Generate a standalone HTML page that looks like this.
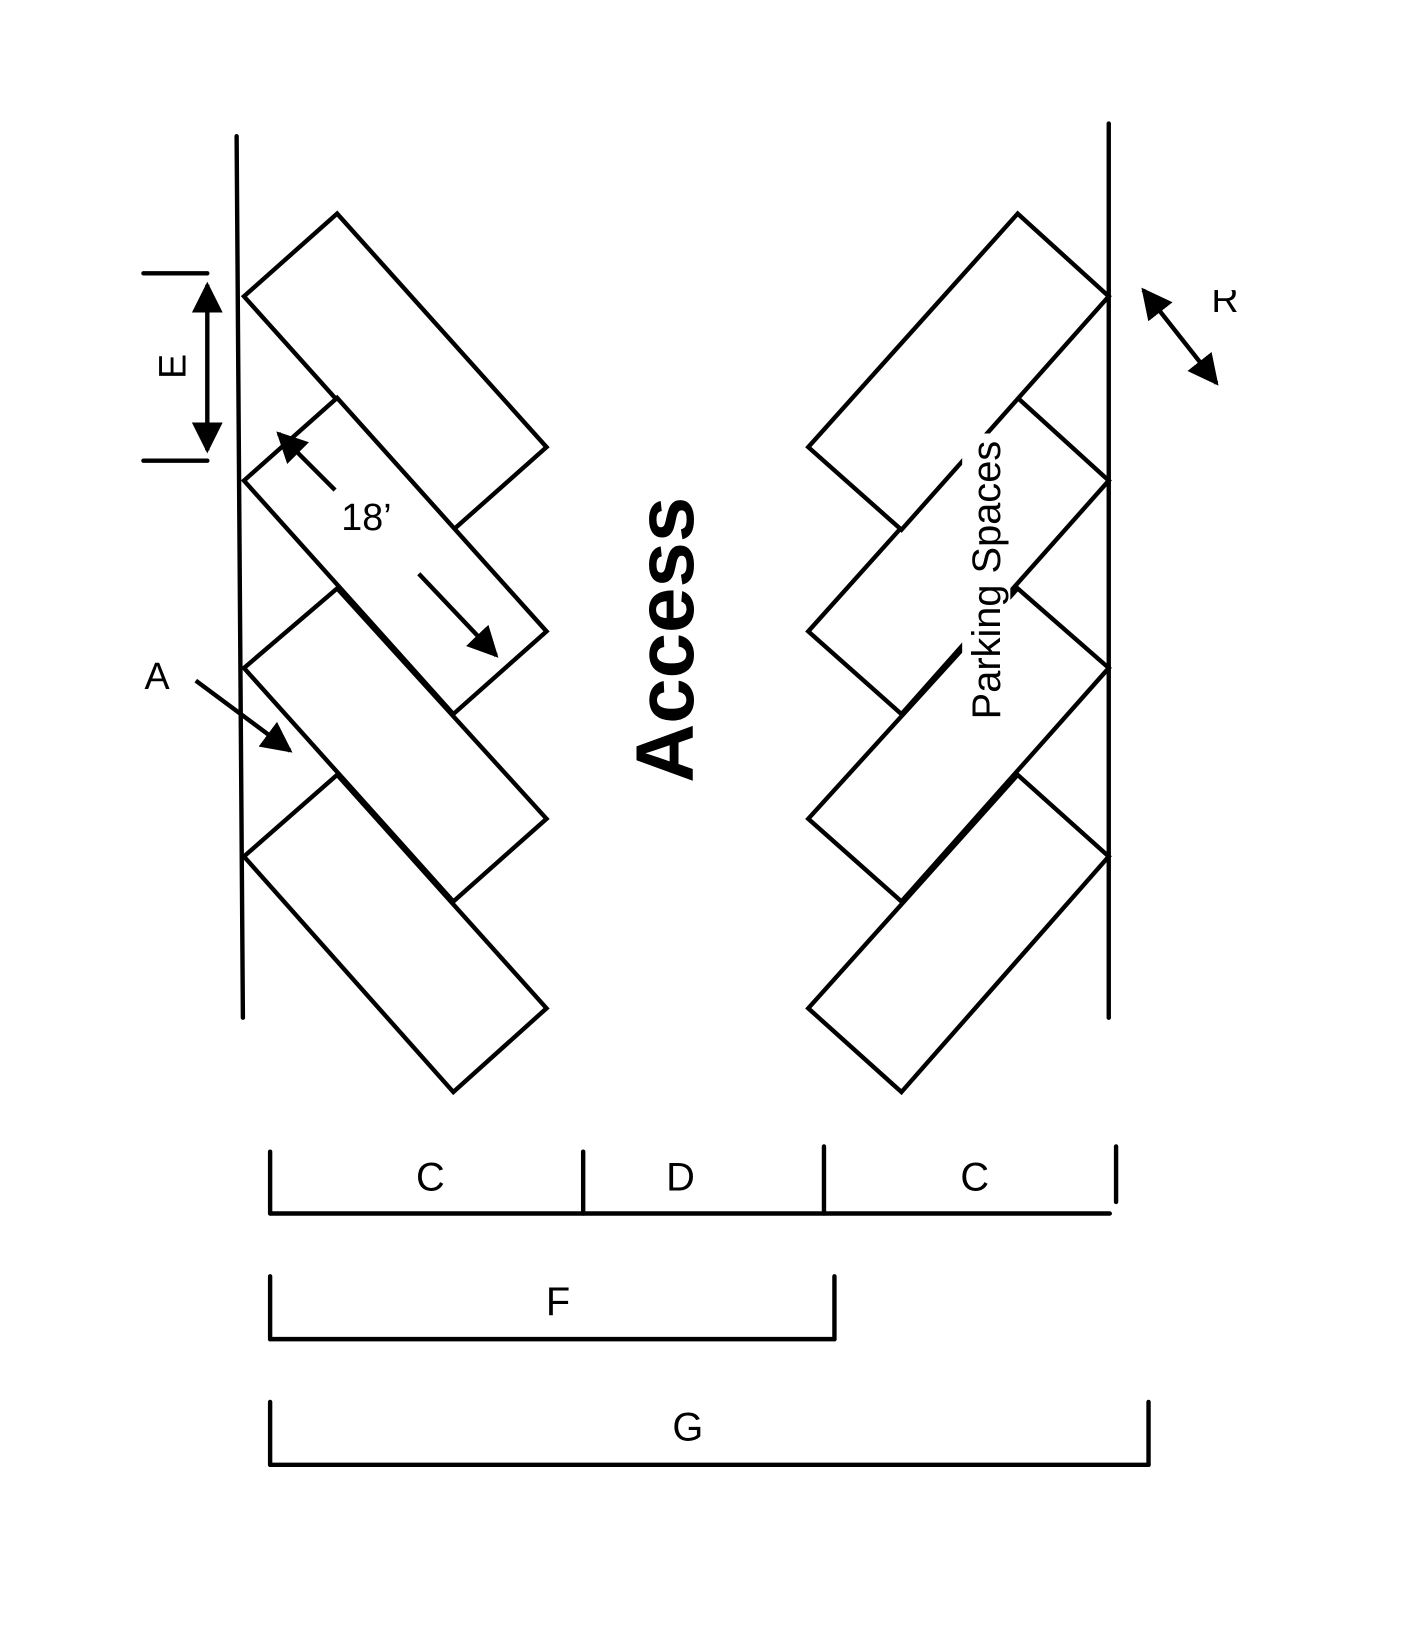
<!DOCTYPE html>
<html><head><meta charset="utf-8"><style>
html,body{margin:0;padding:0;background:#fff;}
svg{display:block;}
text{font-family:"Liberation Sans",sans-serif;fill:#000;}
</style></head><body>
<svg width="1404" height="1636" viewBox="0 0 1341 1562.5" xmlns="http://www.w3.org/2000/svg">
<defs>
<marker id="ah" viewBox="0 0 10 10" refX="9" refY="5" markerWidth="7" markerHeight="7" orient="auto-start-reverse" markerUnits="strokeWidth">
<path d="M0,0 L10,5 L0,10 z" fill="#000"/>
</marker>
</defs>
<g fill="#fff" stroke="#000" stroke-width="4.2" stroke-linejoin="miter">
<!-- left rects -->
<polygon points="233,283 322,204 522,427 433,506"/>
<polygon points="233,459 322,380 522,603 433,682"/>
<polygon points="233,638 322,562 522,782 433,861"/>
<polygon points="233,818 322,740 522,963 433,1043"/>
<!-- right rects (bottom first) -->
<polygon points="1059,818 972,740 772,963 861,1043"/>
<polygon points="1059,638 972,562 772,782 861,861"/>
<polygon points="1059,459 972,380 772,603 861,682"/>
<polygon points="1059,283 972,204 772,427 861,506"/>
</g>
<g stroke="#000" stroke-width="4.2" stroke-linecap="round" fill="none">
<line x1="226" y1="130" x2="232" y2="972"/>
<line x1="1059" y1="118" x2="1059" y2="972"/>
<!-- E -->
<line x1="137" y1="261" x2="198" y2="261"/>
<line x1="137" y1="440" x2="198" y2="440"/>
<line x1="198" y1="272" x2="198" y2="430" marker-start="url(#ah)" marker-end="url(#ah)" stroke-linecap="butt"/>
<!-- 18' -->
<line x1="320" y1="468" x2="266" y2="414" marker-end="url(#ah)" stroke-linecap="butt"/>
<line x1="400" y1="548" x2="474" y2="626" marker-end="url(#ah)" stroke-linecap="butt"/>
<!-- A -->
<line x1="187" y1="650" x2="277" y2="717" marker-end="url(#ah)" stroke-linecap="butt"/>
<!-- R -->
<line x1="1092" y1="277" x2="1162" y2="366" marker-start="url(#ah)" marker-end="url(#ah)" stroke-linecap="butt"/>
<!-- dimension bars -->
<line x1="258" y1="1159" x2="1060" y2="1159"/>
<line x1="258" y1="1100" x2="258" y2="1159"/>
<line x1="557" y1="1100" x2="557" y2="1159"/>
<line x1="787" y1="1095" x2="787" y2="1159"/>
<line x1="1066" y1="1095" x2="1066" y2="1148"/>
<line x1="258" y1="1279" x2="797" y2="1279"/>
<line x1="258" y1="1219" x2="258" y2="1279"/>
<line x1="797" y1="1219" x2="797" y2="1279"/>
<line x1="258" y1="1399" x2="1097" y2="1399"/>
<line x1="258" y1="1339" x2="258" y2="1399"/>
<line x1="1097" y1="1339" x2="1097" y2="1399"/>
</g>
<g transform="translate(942,554) rotate(-90)">
<rect x="-140" y="-23" width="280" height="46" fill="#fff"/>
<text x="0" y="13" font-size="38" text-anchor="middle">Parking Spaces</text>
</g>
<text transform="translate(662,611) rotate(-90)" font-size="78" font-weight="bold" text-anchor="middle">Access</text>
<text transform="translate(177,350) rotate(-90)" font-size="36" text-anchor="middle">E</text>
<text x="350" y="506" font-size="36" text-anchor="middle">18’</text>
<text x="150" y="658" font-size="36" text-anchor="middle">A</text>
<text x="1170" y="298" font-size="36" text-anchor="middle">R</text>
<rect x="1150" y="250" width="40" height="27" fill="#fff"/>
<text x="411" y="1137" font-size="38" text-anchor="middle">C</text>
<text x="650" y="1137" font-size="38" text-anchor="middle">D</text>
<text x="931" y="1137" font-size="38" text-anchor="middle">C</text>
<text x="533" y="1256" font-size="38" text-anchor="middle">F</text>
<text x="657" y="1376" font-size="38" text-anchor="middle">G</text>
</svg>
</body></html>
